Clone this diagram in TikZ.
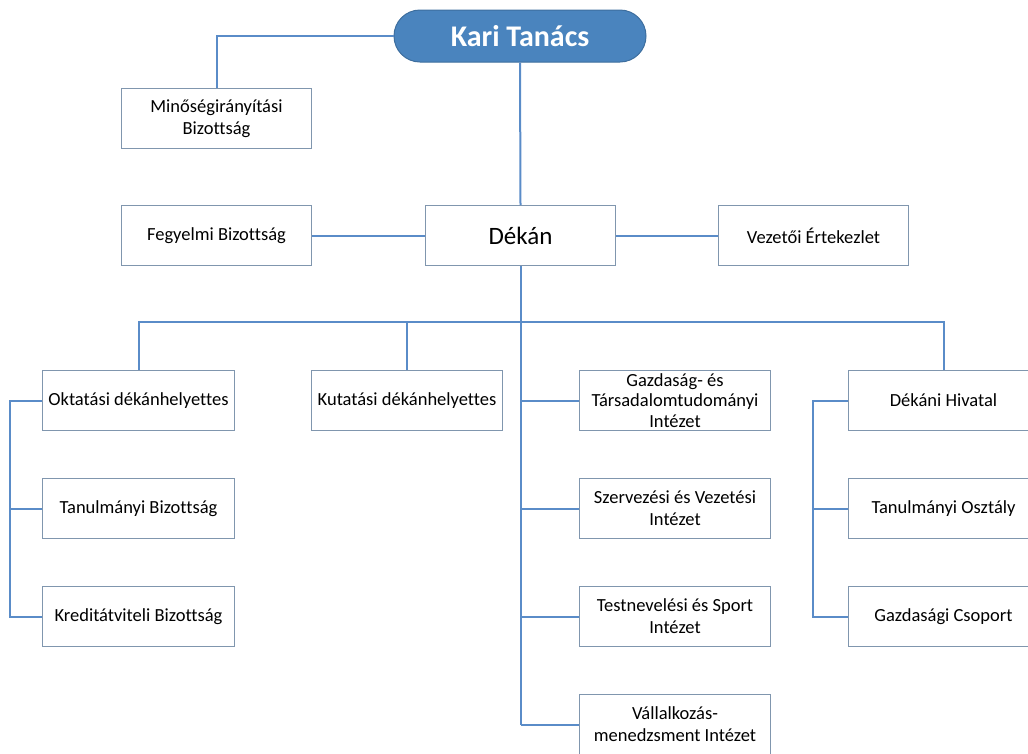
\documentclass[tikz,border=0pt]{standalone}
\usepackage{fontspec}
\setmainfont{Carlito}[Ligatures=NoCommon]
\definecolor{linec}{HTML}{5A8CC8}
\definecolor{boxc}{HTML}{8096AE}
\definecolor{topfill}{HTML}{4A84BE}
\definecolor{topdraw}{HTML}{3D6E9E}
\begin{document}
\begin{tikzpicture}[x=1pt,y=-1pt,
  box/.style={draw=boxc,line width=1pt,fill=white,minimum width=190pt,minimum height=60pt,
    inner sep=1pt,align=center,font=\fontsize{18.5}{22}\selectfont,anchor=north west},
  topbox/.style={draw=topdraw,line width=1pt,fill=topfill,rounded corners=26pt,minimum width=252pt,
    minimum height=52pt,text=white,font=\fontsize{30}{34}\selectfont\bfseries},
  conn/.style={draw=linec,line width=2pt}]
\useasboundingbox (0,0) rectangle (1028,753);
\clip (0,0) rectangle (1028,753);
% nodes
\node[topbox] (kari) at (520,36) {Kari Tanács};
\node[box] (minos) at (121,88) {Minőségirányítási\\Bizottság};
\node[box] (fegy) at (121,205) {Fegyelmi Bizottság};
\node[box,font=\fontsize{25}{28}\selectfont] (dekan) at (425,205) {Dékán};
\node[box] (vez) at (718,205) {Vezetői Értekezlet};
\node[box,minimum width=192pt] (okt) at (42,370) {Oktatási dékánhelyettes};
\node[box,minimum width=192pt] (tanb) at (42,478) {Tanulmányi Bizottság};
\node[box,minimum width=192pt] (kred) at (42,586) {Kreditátviteli Bizottság};
\node[box,minimum width=191pt] (kut) at (311,370) {Kutatási dékánhelyettes};
\node[box,minimum width=191pt,font=\fontsize{18.5}{20.5}\selectfont] (gazd) at (579,370) {Gazdaság- és\\Társadalomtudományi\\Intézet};
\node[box,minimum width=191pt] (szerv) at (579,478) {Szervezési és Vezetési\\Intézet};
\node[box,minimum width=191pt] (test) at (579,586) {Testnevelési és Sport\\Intézet};
\node[box,minimum width=191pt,minimum height=60pt] (vall) at (579,694) {Vállalkozás-\\menedzsment Intézet};
\node[box,minimum width=190pt] (hiv) at (848,370) {Dékáni Hivatal};
\node[box,minimum width=190pt] (tano) at (848,478) {Tanulmányi Osztály};
\node[box,minimum width=190pt] (gcs) at (848,586) {Gazdasági Csoport};
% coordinates
\coordinate (bus) at (520,322);
\coordinate (lx) at (10,0);
\coordinate (rx) at (813,0);
% connectors
\draw[conn] (kari.west) -| (minos.north);
\draw[conn] (kari.south) -- (dekan.north);
\draw[conn] (fegy.east) -- (dekan.west);
\draw[conn] (dekan.east) -- (vez.west);
\draw[conn] (dekan.south) -- (vall.west -| dekan.south);
\draw[conn] (okt.north) |- (bus) -| (hiv.north);
\draw[conn] (kut.north) -- (kut.north |- bus);
\draw[conn] (gazd.west) -- (gazd.west -| dekan.south);
\draw[conn] (szerv.west) -- (szerv.west -| dekan.south);
\draw[conn] (test.west) -- (test.west -| dekan.south);
\draw[conn] (vall.west) -- (vall.west -| dekan.south);
\draw[conn] (okt.west) -- (okt.west -| lx) -- (kred.west -| lx) -- (kred.west);
\draw[conn] (tanb.west) -- (tanb.west -| lx);
\draw[conn] (hiv.west) -- (hiv.west -| rx) -- (gcs.west -| rx) -- (gcs.west);
\draw[conn] (tano.west) -- (tano.west -| rx);
\end{tikzpicture}
\end{document}
